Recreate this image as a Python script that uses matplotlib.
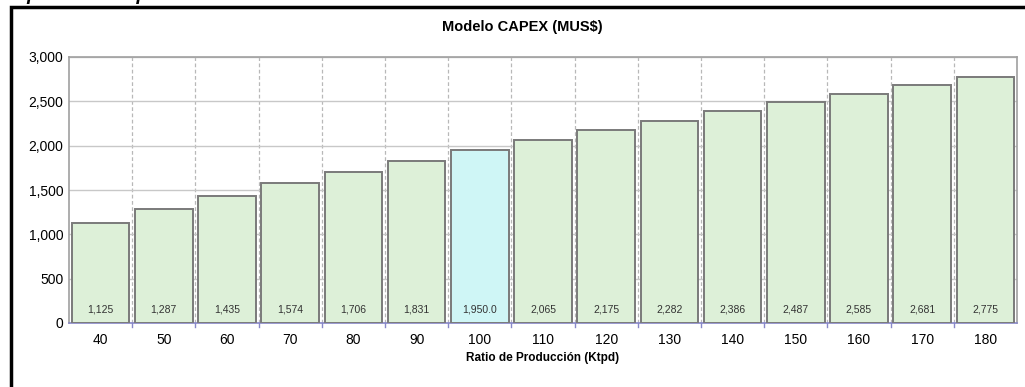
import matplotlib.pyplot as plt
import matplotlib.patches as mpatches
import numpy as np

ratios = [40, 50, 60, 70, 80, 90, 100, 110, 120, 130, 140, 150, 160, 170, 180]
capex = [1125, 1287, 1435, 1574, 1706, 1831, 1950.0, 2065, 2175, 2282, 2386, 2487, 2585, 2681, 2775]
base_ratio = 100

W, H = 1025, 387
fig = plt.figure(figsize=(W / 100, H / 100), dpi=100)
plt.rcParams["font.family"] = ["Liberation Sans", "DejaVu Sans"]

# plot area in pixel coords
left, right, top, bottom = 69, 1017, 57, 323
ax = fig.add_axes([left / W, 1 - bottom / H, (right - left) / W, (bottom - top) / H])

x = np.arange(len(ratios))
colors = ["#cff6f6" if r == base_ratio else "#ddf0d8" for r in ratios]
ax.bar(x, capex, width=0.91, color=colors, edgecolor="#7a7a7a", linewidth=1.4, zorder=3)

for xi, v, r in zip(x, capex, ratios):
    lab = f"{v:,.1f}" if r == base_ratio else f"{v:,.0f}"
    ax.text(xi, 150, lab, ha="center", va="center", fontsize=7.5, color="#333333", zorder=4)

ax.set_xlim(-0.5, len(ratios) - 0.5)
ax.set_ylim(0, 3000)
ax.set_yticks(range(0, 3001, 500))
ax.set_yticklabels([f"{t:,}" for t in range(0, 3001, 500)], fontsize=10)
ax.set_xticks(x)
ax.set_xticklabels([str(r) for r in ratios], fontsize=10)
ax.tick_params(axis="x", length=0, pad=7)
ax.tick_params(axis="y", length=0, pad=4)

# horizontal grid + dashed category separators
ax.yaxis.grid(True, color="#c8c8c8", linewidth=1.0, zorder=0)
for b in np.arange(0.5, len(ratios) - 0.5, 1.0):
    ax.axvline(b, color="#b8b8b8", linestyle=(0, (3, 2)), linewidth=0.9, zorder=1)
    ax.plot([b, b], [0, -40], color="#8888c8", linewidth=1.0, clip_on=False, zorder=5)

for side in ["top", "right", "left"]:
    ax.spines[side].set_color("#a0a0a0")
    ax.spines[side].set_linewidth(1.2)
ax.spines["bottom"].set_color("#8888c8")
ax.spines["bottom"].set_linewidth(1.2)

ax.set_xlabel("Ratio de Producción (Ktpd)", fontsize=8.5, fontweight="bold", labelpad=4)
fig.text(0.5 + 10 / W, 1 - 27 / H, "Modelo CAPEX (MUS$)", ha="center", va="center",
         fontsize=10.5, fontweight="bold")

# heading from the page above, mostly cut off
fig.text(-2 / W, 1 + 5 / H, "ón por tasa de producción", ha="left", va="center",
         fontsize=14, fontweight="bold", fontstyle="italic")

# outer chart frame
frame = mpatches.Rectangle((11 / W, -0.05), 1.1, 1 - 7 / H + 0.05, transform=fig.transFigure,
                           fill=False, edgecolor="black", linewidth=2.5, clip_on=False)
fig.add_artist(frame)

fig.savefig("out.png", dpi=100)
